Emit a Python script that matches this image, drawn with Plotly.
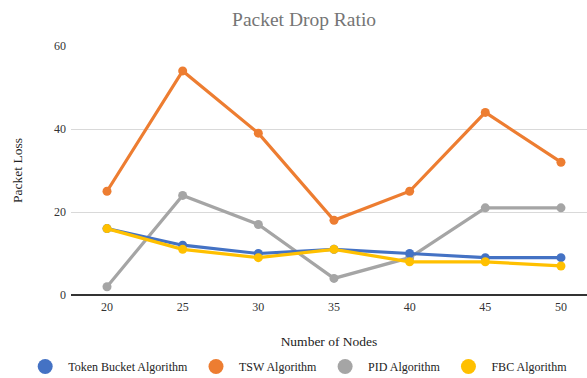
import plotly.graph_objects as go

nodes = [20, 25, 30, 35, 40, 45, 50]
token_bucket = [16, 12, 10, 11, 10, 9, 9]
tsw = [25, 54, 39, 18, 25, 44, 32]
pid = [2, 24, 17, 4, 9, 21, 21]
fbc = [16, 11, 9, 11, 8, 8, 7]
y_ticks = [0, 20, 40, 60]

series = [
    ("Token Bucket Algorithm", token_bucket, "#4472C4"),
    ("TSW Algorithm", tsw, "#ED7D31"),
    ("PID Algorithm", pid, "#A5A5A5"),
    ("FBC Algorithm", fbc, "#FFC000"),
]

fig = go.Figure()
# draw order: gray, orange, blue, yellow (yellow on top)
for idx in [2, 1, 0, 3]:
    name, vals, col = series[idx]
    fig.add_trace(go.Scatter(
        x=nodes, y=vals, mode="lines+markers", name=name,
        line=dict(color=col, width=3.2),
        marker=dict(color=col, size=9),
        showlegend=False,
    ))
for name, vals, col in series:
    fig.add_trace(go.Scatter(
        x=[None], y=[None], mode="markers", name=name,
        marker=dict(color=col, size=15),
        showlegend=True,
    ))

font_fam = "Liberation Serif"
fig.update_layout(
    width=587, height=378,
    margin=dict(l=71, r=0, t=46, b=83, autoexpand=False),
    paper_bgcolor="white", plot_bgcolor="white",
    font=dict(family=font_fam, size=12, color="#333333"),
    title=dict(text="Packet Drop Ratio", x=0.518, xanchor="center", y=0.95, yanchor="middle",
               font=dict(family=font_fam, size=19.5, color="#757575")),
    xaxis=dict(range=[17.62, 51.72], tickvals=nodes, showgrid=False, zeroline=False,
               showline=False, ticks="", ticklabelstandoff=3,
               tickfont=dict(family=font_fam, size=12, color="#333333"),
               title=dict(text="Number of Nodes",
                          font=dict(family=font_fam, size=13.5, color="#222222"), standoff=23)),
    yaxis=dict(range=[0, 60], tickvals=y_ticks, showgrid=True, gridcolor="#D9D9D9", gridwidth=1,
               zeroline=True, zerolinecolor="#333333", zerolinewidth=1.5, ticks="",
               ticklabelstandoff=4, tickfont=dict(family=font_fam, size=12, color="#333333"),
               title=dict(text="Packet Loss",
                          font=dict(family=font_fam, size=13.5, color="#222222"), standoff=28)),
    legend=dict(orientation="h", x=-0.0946, xanchor="left", y=-0.229, yanchor="top",
                font=dict(family=font_fam, size=12, color="#222222"), itemsizing="trace",
                itemwidth=36),
)
fig.write_html("out.html", config={"displayModeBar": False},
               post_script="document.body.style.margin='0';document.body.style.overflow='hidden';")
